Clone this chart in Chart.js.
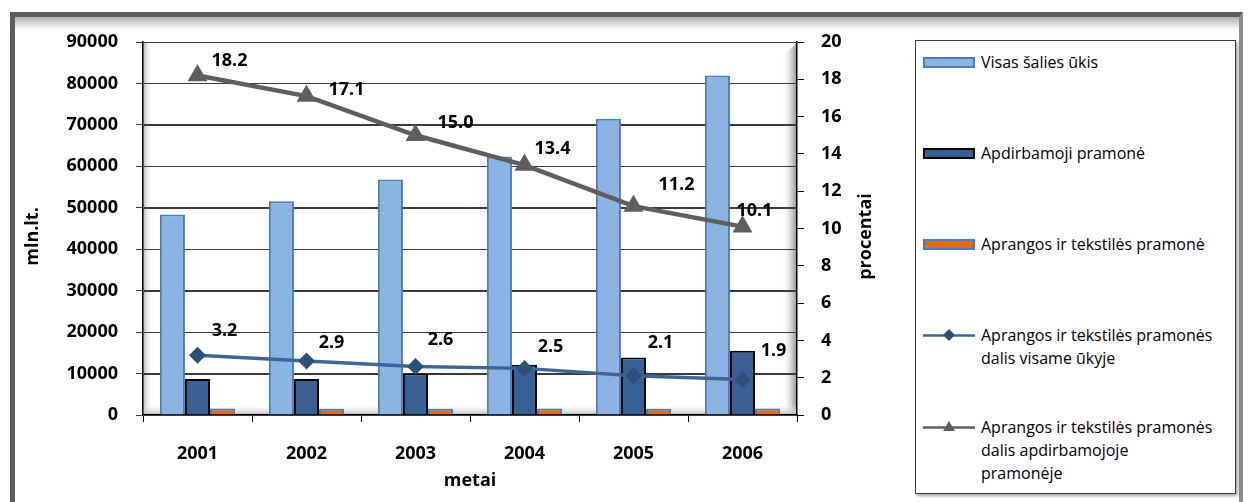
<!DOCTYPE html>
<html lang="lt">

<head>
    <meta charset="UTF-8">
    <meta name="viewport" content="width=device-width, initial-scale=1.0">
    <title>Aprangos ir tekstilės pramonė</title>

    <style>
        body {
            margin: 0;
            background: #fff;
            font-family: 'Open Sans', sans-serif;
        }

        .frame {
            position: absolute;
            left: 10px;
            top: 12px;
            width: 1233px;
            height: 510px;
            box-sizing: border-box;
            border: 5px solid #5c5c5c;
            border-right: 4px solid #8c8c8c;
            border-bottom: none;
            background: linear-gradient(to bottom, #b0b0b0 0, #fff 13px);
        }

        .chart-box {
            position: absolute;
            left: 0;
            top: 0;
            width: 900px;
            height: 502px;
        }

        .legend {
            position: absolute;
            left: 915px;
            top: 40px;
            width: 321px;
            height: 454px;
            box-sizing: border-box;
            border: 1px solid #3c3c3c;
            background: #fff;
            box-shadow: 2px 2px 3px rgba(0, 0, 0, 0.35);
            font-size: 16px;
            color: #000;
        }

        .legend .item {
            position: absolute;
            left: 0;
            right: 0;
        }

        .legend .sw {
            position: absolute;
            left: 7px;
            width: 52px;
        }

        .legend .txt {
            position: absolute;
            left: 65px;
            line-height: 23px;
            white-space: nowrap;
        }
    </style>

</head>

<body>

    <div class="frame"></div>
    <div class="chart-box">
        <canvas id="chart"></canvas>
    </div>
    <div class="legend" id="legend"></div>

    <script src="https://cdn.jsdelivr.net/npm/chart.js@4.4.3/dist/chart.umd.min.js"></script>

    <script>
        // duomenys
        const years = ['2001', '2002', '2003', '2004', '2005', '2006']
        const visasUkis = [48400, 51600, 56800, 62400, 71500, 81900]
        const apdirbamoji = [8700, 8700, 10000, 12100, 13900, 15500]
        const aprangos = [1550, 1500, 1480, 1560, 1500, 1560]
        const dalisVisame = [3.2, 2.9, 2.6, 2.5, 2.1, 1.9]
        const dalisApdirb = [18.2, 17.1, 15.0, 13.4, 11.2, 10.1]

        const seriesNames = [
            'Visas šalies ūkis',
            'Apdirbamoji pramonė',
            'Aprangos ir tekstilės pramonė',
            'Aprangos ir tekstilės pramonės dalis visame ūkyje',
            'Aprangos ir tekstilės pramonės dalis apdirbamojoje pramonėje'
        ]
        const legendLines = [
            ['Visas šalies ūkis'],
            ['Apdirbamoji pramonė'],
            ['Aprangos ir tekstilės pramonė'],
            ['Aprangos ir tekstilės pramonės', 'dalis visame ūkyje'],
            ['Aprangos ir tekstilės pramonės', 'dalis apdirbamojoje', 'pramonėje']
        ]

        const yTitle = 'mln.lt.'
        const y1Title = 'procentai'
        const xTitle = 'metai'

        // label offsets (px) from the point
        const grayLabelOff = [[32, -15], [40, -6], [40, -12], [28, -16], [43, -21], [12, -16]]
        const blueLabelOff = [[27, -24], [25, -18], [25, -27], [26, -22], [27, -33], [31, -29]]

        const boldFont = { family: "'Open Sans', sans-serif", size: 18, weight: 'bold' }
        Chart.defaults.font.family = "'Open Sans', sans-serif"
        Chart.defaults.color = '#000'

        // 3d-ish walls / floor, painted underneath everything already drawn
        const wallsPlugin = {
            id: 'walls',
            beforeDatasetsDraw(chart) {
                // horizontal gridlines at the y ticks
                const { ctx, chartArea: a, scales } = chart
                ctx.save()
                ctx.strokeStyle = '#3a3a3a'
                ctx.lineWidth = 1
                scales.y.ticks.forEach(t => {
                    const y = Math.round(scales.y.getPixelForValue(t.value)) + 0.5
                    ctx.beginPath()
                    ctx.moveTo(a.left, y)
                    ctx.lineTo(a.right, y)
                    ctx.stroke()
                })
                ctx.restore()
            },
            afterDraw(chart) {
                const { ctx, chartArea: a } = chart
                ctx.save()
                ctx.globalCompositeOperation = 'destination-over'

                let g = ctx.createLinearGradient(0, a.bottom - 11, 0, a.bottom)
                g.addColorStop(0, 'rgba(255,255,255,0)')
                g.addColorStop(1, '#b8b8b8')
                ctx.fillStyle = g
                ctx.fillRect(a.left, a.bottom - 11, a.right - a.left, 11)

                g = ctx.createLinearGradient(a.left, 0, a.left + 10, 0)
                g.addColorStop(0, '#b4b4b4')
                g.addColorStop(1, 'rgba(255,255,255,0)')
                ctx.fillStyle = g
                ctx.fillRect(a.left, a.top, 10, a.bottom - a.top)

                g = ctx.createLinearGradient(a.right - 15, 0, a.right, 0)
                g.addColorStop(0, 'rgba(255,255,255,0)')
                g.addColorStop(1, '#8a8a8a')
                ctx.fillStyle = g
                ctx.beginPath()
                ctx.moveTo(a.right - 15, a.top + 15)
                ctx.lineTo(a.right, a.top)
                ctx.lineTo(a.right, a.bottom)
                ctx.lineTo(a.right - 15, a.bottom)
                ctx.closePath()
                ctx.fill()

                ctx.fillStyle = '#fff'
                ctx.fillRect(a.left, a.top, a.right - a.left, a.bottom - a.top)
                ctx.restore()
            }
        }

        const textPlugin = {
            id: 'texts',
            afterDatasetsDraw(chart) {
                const { ctx, chartArea: a } = chart
                ctx.save()
                ctx.font = 'bold 18px "Open Sans", sans-serif'
                ctx.fillStyle = '#000'
                ctx.textAlign = 'center'
                ctx.textBaseline = 'middle'

                const drawLabels = (dsIndex, values, offs) => {
                    chart.getDatasetMeta(dsIndex).data.forEach((pt, i) => {
                        ctx.fillText(values[i].toFixed(1), pt.x + offs[i][0], pt.y + offs[i][1])
                    })
                }
                drawLabels(3, dalisVisame, blueLabelOff)
                drawLabels(4, dalisApdirb, grayLabelOff)

                // axis titles (both read bottom-to-top)
                const midY = (a.top + a.bottom) / 2 + 8
                ctx.translate(a.left - 110, midY)
                ctx.rotate(-Math.PI / 2)
                ctx.fillText(yTitle, 0, 0)
                ctx.setTransform(1, 0, 0, 1, 0, 0)
                ctx.translate(a.right + 69, midY)
                ctx.rotate(-Math.PI / 2)
                ctx.fillText(y1Title, 0, 0)
                ctx.restore()
            }
        }

        const ctx = document.getElementById('chart').getContext('2d')

        const chart = new Chart(ctx, {
            type: 'bar',
            data: {
                labels: years,
                datasets: [
                    {
                        label: seriesNames[0],
                        data: visasUkis,
                        backgroundColor: '#8db3e2',
                        borderColor: '#4a7ebb',
                        borderWidth: 2,
                        yAxisID: 'y',
                        order: 2,
                    },
                    {
                        label: seriesNames[1],
                        data: apdirbamoji,
                        backgroundColor: '#386092',
                        borderColor: '#000',
                        borderWidth: 2,
                        yAxisID: 'y',
                        order: 2,
                    },
                    {
                        label: seriesNames[2],
                        data: aprangos,
                        backgroundColor: '#e46c0a',
                        borderColor: '#4a7ebb',
                        borderWidth: 2,
                        yAxisID: 'y',
                        order: 2,
                    },
                    {
                        type: 'line',
                        label: seriesNames[3],
                        data: dalisVisame,
                        borderColor: '#3e6597',
                        borderWidth: 3.5,
                        pointStyle: 'rectRot',
                        pointRadius: 6,
                        pointBackgroundColor: '#2c4f7c',
                        pointBorderColor: '#2c4f7c',
                        tension: 0,
                        yAxisID: 'y1',
                        order: 1,
                    },
                    {
                        type: 'line',
                        label: seriesNames[4],
                        data: dalisApdirb,
                        borderColor: '#5e5e5e',
                        borderWidth: 4.5,
                        pointStyle: 'triangle',
                        pointRadius: 7,
                        pointBackgroundColor: '#5e5e5e',
                        pointBorderColor: '#5e5e5e',
                        tension: 0,
                        yAxisID: 'y1',
                        order: 0,
                    },
                ],
            },
            options: {
                responsive: true,
                maintainAspectRatio: false,
                animation: false,
                layout: { padding: { left: 0, top: 42, right: 13, bottom: 0 } },
                datasets: {
                    bar: { categoryPercentage: 0.69, barPercentage: 1.0 },
                },
                plugins: {
                    legend: { display: false },
                    tooltip: { enabled: false },
                },
                scales: {
                    x: {
                        grid: { offset: true, drawOnChartArea: false, tickLength: 7, color: '#000' },
                        border: { color: '#000', width: 1.5 },
                        ticks: { font: boldFont, padding: 21, color: '#000' },
                        title: { display: true, text: xTitle, font: boldFont, color: '#000', padding: { top: 0, bottom: 10 } },
                        afterFit: s => { s.height = 87 },
                    },
                    y: {
                        position: 'left',
                        min: 0,
                        max: 90000,
                        ticks: { stepSize: 10000, font: boldFont, padding: 18, color: '#000', callback: v => String(v) },
                        grid: { color: '#3a3a3a', tickLength: 7, lineWidth: 1 },
                        border: { color: '#000', width: 1.5 },
                        afterFit: s => { s.width = 143 },
                    },
                    y1: {
                        position: 'right',
                        min: 0,
                        max: 20,
                        ticks: { stepSize: 2, font: boldFont, padding: 17, color: '#000' },
                        grid: { drawOnChartArea: false, tickLength: 7, color: '#000' },
                        border: { color: '#000', width: 1.5 },
                        afterFit: s => { s.width = 90 },
                    },
                },
            },
            plugins: [wallsPlugin, textPlugin],
        });

        // legend (html, built from the datasets)
        const legendTops = [10, 101, 192, 283, 375]
        const legend = document.getElementById('legend')
        chart.data.datasets.forEach((ds, i) => {
            const item = document.createElement('div')
            item.className = 'item'
            item.style.top = legendTops[i] + 'px'
            let sw
            if (ds.type === 'line') {
                const marker = ds.pointStyle === 'triangle'
                    ? '<polygon points="26,0 32,10 20,10" fill="' + ds.pointBackgroundColor + '"/>'
                    : '<polygon points="26,0 32,6 26,12 20,6" fill="' + ds.pointBackgroundColor + '"/>'
                sw = '<svg class="sw" style="top:5px" width="52" height="13"><line x1="0" y1="6.5" x2="52" y2="6.5" stroke="' +
                    ds.borderColor + '" stroke-width="2.5"/>' + marker + '</svg>'
            } else {
                sw = '<div class="sw" style="top:6px;height:11px;box-sizing:border-box;background:' + ds.backgroundColor +
                    ';border:2.5px solid ' + ds.borderColor + '"></div>'
            }
            item.innerHTML = sw + '<div class="txt">' + legendLines[i].join('<br>') + '</div>'
            legend.appendChild(item)
        })
    </script>

</body>

</html>
